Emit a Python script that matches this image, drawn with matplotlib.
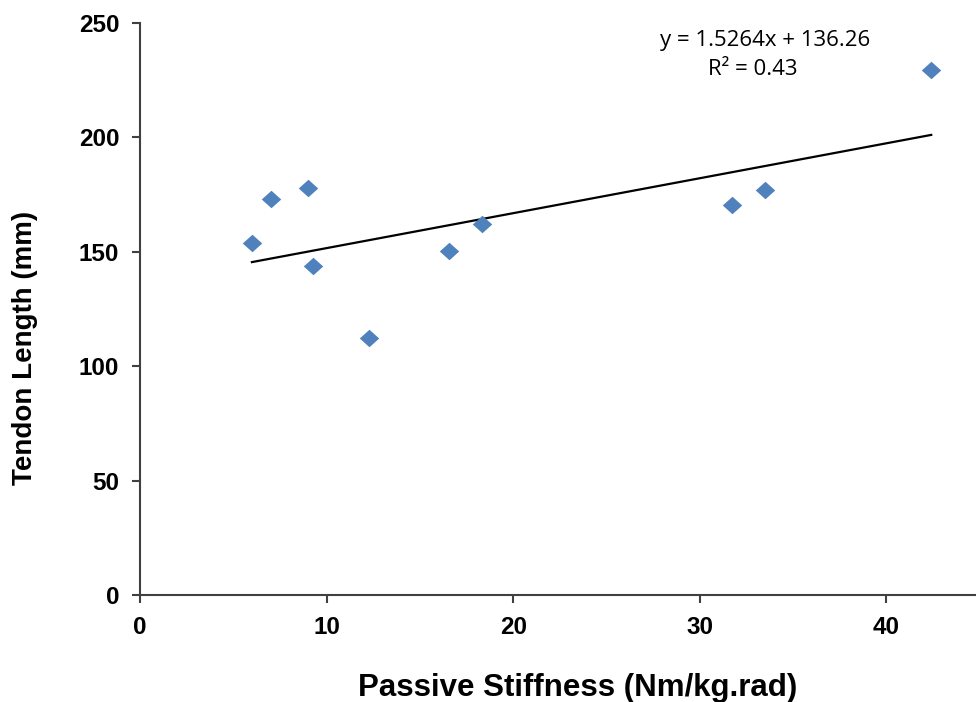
import numpy as np
import matplotlib.pyplot as plt

# values
stiffness = [6.0, 7.0, 9.0, 9.25, 12.3, 16.55, 18.35, 31.75, 33.5, 42.4]
tendon_len = [153.6, 172.8, 177.8, 143.5, 112.2, 150.3, 162.0, 170.3, 176.8, 229.2]
slope, intercept = 1.5264, 136.26
r2 = 0.43
x_ticks = [0, 10, 20, 30, 40]
y_ticks = [0, 50, 100, 150, 200, 250]

fig = plt.figure(figsize=(9.76, 7.02), dpi=100)
ax = fig.add_axes([0.1434, 0.1524, 1 - 0.1434, 0.9677 - 0.1524])

diamond = [(-1, 0), (0, 0.9), (1, 0), (0, -0.9), (-1, 0)]
ax.plot(stiffness, tendon_len, linestyle='none', marker=diamond, markersize=14,
        color='#4F81BD', markeredgewidth=0, zorder=3)

# linear trendline over the range of the data
xs = np.array([min(stiffness), max(stiffness)])
ax.plot(xs, slope * xs + intercept, color='black', linewidth=1.6, zorder=2)

ax.text(0.784, 0.9416, f"y = {slope}x + {intercept}", transform=fig.transFigure,
        ha='center', va='center', fontsize=16, family='Open Sans')
ax.text(0.771, 0.9017, f"R² = {r2}", transform=fig.transFigure,
        ha='center', va='center', fontsize=16, family='Open Sans')

ax.set_xlim(0, 44.8)
ax.set_ylim(0, 250)
ax.set_xticks(x_ticks)
ax.set_yticks(y_ticks)

for side in ['top', 'right']:
    ax.spines[side].set_visible(False)
for side in ['left', 'bottom']:
    ax.spines[side].set_color('#404040')
    ax.spines[side].set_linewidth(1.5)

ax.tick_params(direction='out', length=6, width=1.5, color='#404040', pad=9,
               labelsize=17.5)
for lab in ax.get_xticklabels() + ax.get_yticklabels():
    lab.set_family('Liberation Sans')
    lab.set_fontweight('bold')

fig.text(0.592, 0.020, 'Passive Stiffness (Nm/kg.rad)', ha='center', va='center',
         fontsize=22.5, fontweight='bold', family='Liberation Sans')
fig.text(0.026, 0.504, 'Tendon Length (mm)', ha='center', va='center', rotation=90,
         fontsize=20, fontweight='bold', family='Liberation Sans')

fig.savefig('out.png', dpi=100)
